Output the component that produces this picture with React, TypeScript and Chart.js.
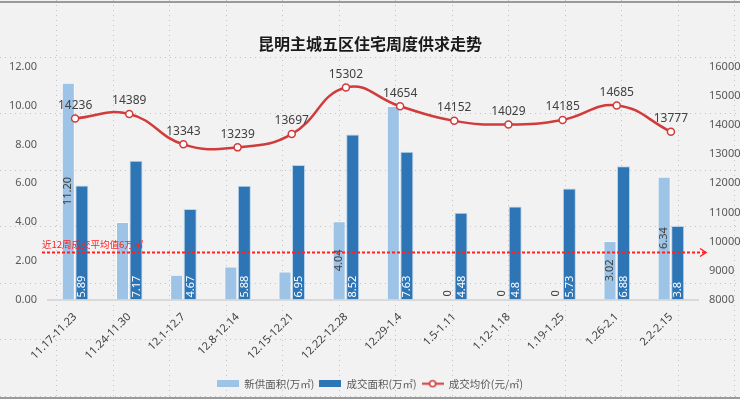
import React, { useEffect, useRef } from "react";
import { Chart, registerables } from "chart.js";

Chart.register(...registerables);

const categories = [
  "11.17-11.23", "11.24-11.30", "12.1-12.7", "12.8-12.14", "12.15-12.21", "12.22-12.28",
  "12.29-1.4", "1.5-1.11", "1.12-1.18", "1.19-1.25", "1.26-2.1", "2.2-2.15",
];
const newSupply = [11.2, 4.0, 1.28, 1.71, 1.45, 4.04, 10.0, 0, 0, 0, 3.02, 6.34];
const newSupplyLabels: (string | null)[] = ["11.20", null, null, null, null, "4.04", null, "0", "0", "0", "3.02", "6.34"];
const dealArea = [5.89, 7.17, 4.67, 5.88, 6.95, 8.52, 7.63, 4.48, 4.8, 5.73, 6.88, 3.8];
const dealLabels = ["5.89", "7.17", "4.67", "5.88", "6.95", "8.52", "7.63", "4.48", "4.8", "5.73", "6.88", "3.8"];
const avgPrice = [14236, 14389, 13343, 13239, 13697, 15302, 14654, 14152, 14029, 14185, 14685, 13777];
const avgLineValue = 2.43;
const avgLineText = "近12周成交平均值6万㎡";
const titleText = "昆明主城五区住宅周度供求走势";

const FONT = "'Noto Sans', 'Noto Sans CJK SC', sans-serif";
const CJK = "'Noto Sans CJK SC', sans-serif";
const LIGHT = "#9dc3e6";
const DARK = "#2e75b6";
const RED = "#d13b3b";

function makeBoxIcon(color: string) {
  const c = document.createElement("canvas");
  c.width = 22; c.height = 7;
  const ctx = c.getContext("2d")!;
  ctx.fillStyle = color;
  ctx.fillRect(0, 0, 22, 7);
  return c;
}
function makeLineIcon() {
  const c = document.createElement("canvas");
  c.width = 22; c.height = 9;
  const ctx = c.getContext("2d")!;
  ctx.strokeStyle = RED; ctx.lineWidth = 2;
  ctx.beginPath(); ctx.moveTo(0, 4.5); ctx.lineTo(22, 4.5); ctx.stroke();
  ctx.fillStyle = "#fff"; ctx.lineWidth = 1.5;
  ctx.beginPath(); ctx.arc(11, 4.5, 3, 0, Math.PI * 2); ctx.fill(); ctx.stroke();
  return c;
}

const bgPlugin = {
  id: "bgGrid",
  beforeDraw(chart: any) {
    const { ctx, width, height } = chart;
    ctx.save();
    ctx.fillStyle = "#f2f2f2";
    ctx.fillRect(0, 0, width, height);
    ctx.strokeStyle = "#c4c4c4";
    ctx.lineWidth = 1;
    ctx.setLineDash([1, 4]);
    const step = 56.5;
    for (let x = 56; x < width; x += step) {
      ctx.beginPath(); ctx.moveTo(Math.round(x) + 0.5, 0); ctx.lineTo(Math.round(x) + 0.5, height); ctx.stroke();
    }
    for (let y = 56.5; y < height; y += step) {
      ctx.beginPath(); ctx.moveTo(0, Math.round(y) + 0.5); ctx.lineTo(width, Math.round(y) + 0.5); ctx.stroke();
    }
    ctx.setLineDash([]);
    ctx.strokeStyle = "#9a9a9a";
    ctx.lineWidth = 2;
    ctx.beginPath(); ctx.moveTo(0, 2); ctx.lineTo(width, 2); ctx.stroke();
    ctx.beginPath(); ctx.moveTo(0, height - 1); ctx.lineTo(width, height - 1); ctx.stroke();
    ctx.restore();
  },
};

const labelsPlugin = {
  id: "customLabels",
  afterDatasetsDraw(chart: any) {
    const { ctx } = chart;
    const yL = chart.scales.y;
    ctx.save();
    const m0 = chart.getDatasetMeta(0);
    const m1 = chart.getDatasetMeta(1);
    ctx.font = `11px ${FONT}`;
    ctx.textBaseline = "middle";
    const base = yL.getPixelForValue(0);
    m0.data.forEach((bar: any, i: number) => {
      const t = newSupplyLabels[i];
      if (!t) return;
      const w = ctx.measureText(t).width;
      let cy = (bar.y + base) / 2;
      cy = Math.min(cy, base - w / 2 - 3);
      ctx.save();
      ctx.translate(bar.x, cy);
      ctx.rotate(-Math.PI / 2);
      ctx.fillStyle = "#404040";
      ctx.textAlign = "center";
      ctx.fillText(t, 0, 0);
      ctx.restore();
    });
    m1.data.forEach((bar: any, i: number) => {
      const t = dealLabels[i];
      ctx.save();
      ctx.translate(bar.x + 0.5, base - 2);
      ctx.rotate(-Math.PI / 2);
      ctx.fillStyle = "#ffffff";
      ctx.textAlign = "left";
      ctx.fillText(t, 0, 0);
      ctx.restore();
    });
    const m2 = chart.getDatasetMeta(2);
    ctx.font = `12px ${FONT}`;
    ctx.fillStyle = "#404040";
    ctx.textAlign = "center";
    ctx.textBaseline = "bottom";
    m2.data.forEach((pt: any, i: number) => {
      ctx.fillText(String(avgPrice[i]), pt.x, pt.y - 7);
    });
    const yy = Math.round(yL.getPixelForValue(avgLineValue)) + 0.5;
    const x0 = chart.chartArea.left - 6;
    const x1 = chart.chartArea.right + 8;
    ctx.strokeStyle = "#ff2020";
    ctx.lineWidth = 2;
    ctx.setLineDash([3, 2]);
    ctx.beginPath(); ctx.moveTo(x0, yy); ctx.lineTo(x1, yy); ctx.stroke();
    ctx.setLineDash([]);
    ctx.lineWidth = 1.5;
    ctx.beginPath(); ctx.moveTo(x1 - 6, yy - 4); ctx.lineTo(x1, yy); ctx.lineTo(x1 - 6, yy + 4); ctx.stroke();
    ctx.font = `9.5px ${CJK}`;
    ctx.fillStyle = "#ff2020";
    ctx.textAlign = "left";
    ctx.textBaseline = "bottom";
    ctx.fillText(avgLineText, x0, yy - 3);
    ctx.restore();
  },
};

export default function App() {
  const ref = useRef<HTMLCanvasElement>(null);
  useEffect(() => {
    document.body.style.margin = "0";
    const lineIcon = makeLineIcon();
    const chart = new Chart(ref.current!, {
      type: "bar",
      data: {
        labels: categories,
        datasets: [
          {
            type: "bar", label: "新供面积(万㎡)", data: newSupply, backgroundColor: LIGHT,
            borderColor: "rgba(255,255,255,0.6)", borderWidth: 1, yAxisID: "y",
            categoryPercentage: 0.5, barPercentage: 0.96, order: 2,
            pointStyle: makeBoxIcon(LIGHT) as any,
          },
          {
            type: "bar", label: "成交面积(万㎡)", data: dealArea, backgroundColor: DARK,
            borderColor: "rgba(160,200,235,0.7)", borderWidth: 1, yAxisID: "y",
            categoryPercentage: 0.5, barPercentage: 0.96, order: 2,
            pointStyle: makeBoxIcon(DARK) as any,
          },
          {
            type: "line", label: "成交均价(元/㎡)", data: avgPrice, borderColor: RED,
            borderWidth: 2.5, tension: 0.45, pointRadius: 3.5, pointBackgroundColor: "#fff",
            pointBorderColor: RED, pointBorderWidth: 1.5, yAxisID: "y1", order: 1,
            pointStyle: "circle",
          } as any,
        ],
      },
      options: {
        responsive: false,
        animation: false,
        layout: { padding: { left: 0, right: 0, top: 0, bottom: 0 } },
        plugins: {
          title: {
            display: true, text: titleText, color: "#1a1a1a",
            font: { family: CJK, size: 16, weight: "bold" },
            padding: { top: 34, bottom: 14 },
          },
          legend: {
            position: "bottom",
            labels: {
              font: { family: CJK, size: 10.5 }, color: "#595959", padding: 5,
              usePointStyle: true, pointStyleWidth: 22, boxHeight: 8,
              generateLabels: (ch: any) => {
                const ds = ch.data.datasets;
                return ds.map((d: any, i: number) => ({
                  text: d.label, fillStyle: "transparent", strokeStyle: "transparent",
                  lineWidth: 0, hidden: false, datasetIndex: i, fontColor: "#595959",
                  pointStyle: i === 2 ? lineIcon : d.pointStyle,
                }));
              },
            },
          },
          tooltip: { enabled: false },
        },
        scales: {
          x: {
            grid: { display: false },
            border: { color: "#d9d9d9", width: 2 },
            ticks: {
              color: "#404040", font: { family: FONT, size: 11 }, maxRotation: 45, minRotation: 45,
              autoSkip: false,
            },
            afterFit: (s: any) => { s.height = 74; s.paddingLeft = 0; s.paddingRight = 0; },
          },
          y: {
            position: "left", min: 0, max: 12,
            grid: { display: false }, border: { display: false },
            ticks: {
              stepSize: 2, color: "#595959", font: { family: FONT, size: 11 },
              callback: (v: any) => Number(v).toFixed(2),
            },
            afterFit: (s: any) => { s.width = 48; },
          },
          y1: {
            position: "right", min: 8000, max: 16000,
            grid: { display: false }, border: { display: false },
            ticks: {
              stepSize: 1000, color: "#595959", font: { family: FONT, size: 11 },
              callback: (v: any) => String(v),
            },
            afterFit: (s: any) => { s.width = 42; },
          },
        },
      } as any,
      plugins: [bgPlugin, labelsPlugin],
    });
    return () => chart.destroy();
  }, []);
  return (
    <div style={{ width: 740, height: 399 }}>
      <canvas ref={ref} width={740} height={399} style={{ display: "block" }} />
    </div>
  );
}
